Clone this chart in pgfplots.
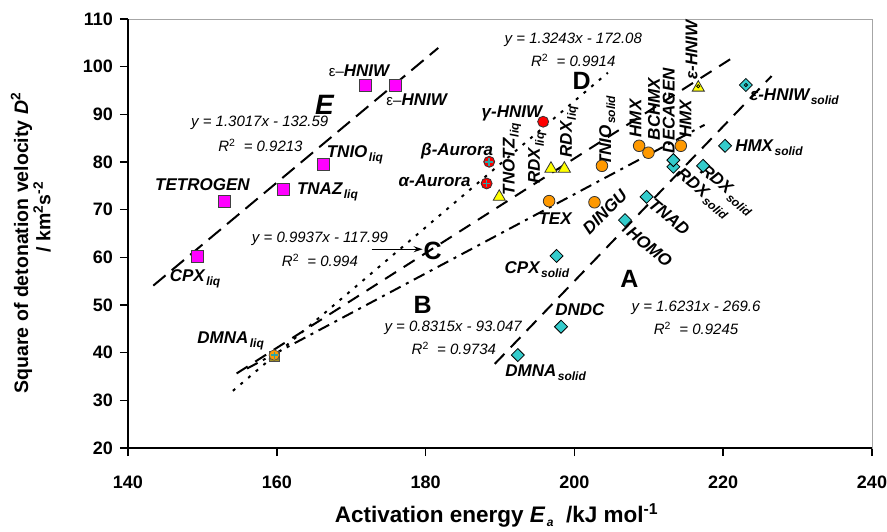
\documentclass[border=0pt]{standalone}
\usepackage{pgfplots}
\pgfplotsset{compat=1.18}
\usetikzlibrary{arrows.meta}
\usepackage{fontspec}
\setmainfont{Liberation Sans}
\definecolor{mag}{HTML}{FF00FF}
\definecolor{tealc}{HTML}{33CCCC}
\definecolor{orng}{HTML}{FF9900}
\definecolor{crossc}{HTML}{2AA5A5}
\definecolor{ylw}{HTML}{FFFF00}
\newcommand{\lab}{\fontsize{17}{19}\selectfont\bfseries\itshape}
\newcommand{\eqf}{\fontsize{15}{17}\selectfont\itshape}
\newcommand{\sub}[1]{\hspace{1.5pt}\raisebox{-4pt}{\fontsize{12}{13}\selectfont #1}}
\newcommand{\Rsq}[1]{R\textsuperscript{\upshape 2}\ \ = #1}
\tikzset{lb/.style={inner sep=0pt, font=\lab},
         eq/.style={inner sep=0pt, font=\eqf},
         big/.style={inner sep=0pt, font=\fontsize{25}{27}\selectfont\bfseries}}
\begin{document}
\begin{tikzpicture}
\path[use as bounding box] (-128pt,-83pt) rectangle (759pt,448pt);
\begin{axis}[
  scale only axis, width=744pt, height=429pt,
  xmin=140, xmax=240, ymin=20, ymax=110,
  xtick={140,160,...,240}, ytick={20,30,...,110},
  tick align=outside, tick pos=left,
  major tick length=8pt,
  tick style={black, line width=1.5pt},
  axis line style={draw=gray!70, line width=1pt},
  /pgf/number format/assume math mode=true,
  ticklabel style={font=\fontsize{18}{20}\selectfont\bfseries, inner sep=0pt},
  xticklabel shift=20pt,
  yticklabel shift=7pt,
  clip=false,
]
% trend lines
\addplot[black, line width=2pt, dash pattern=on 16pt off 8pt] coordinates {(143.4,54.07) (181.7,103.93)}; % E
\addplot[black, line width=2pt, dash pattern=on 14pt off 9pt] coordinates {(189.3,37.65) (226.5,98.03)}; % A
\addplot[black, line width=2pt, dash pattern=on 12pt off 6pt on 3pt off 6pt] coordinates {(156.0,36.67) (217.5,87.80)}; % B
\addplot[black, line width=2pt, dash pattern=on 13pt off 9pt] coordinates {(154.6,35.64) (221.4,102.01)}; % C
\addplot[black, line width=2pt, dash pattern=on 3pt off 7pt] coordinates {(154.1,31.99) (204.5,98.74)}; % D

% E series (liquid, magenta squares)
\addplot[only marks, mark=square*, mark size=6pt, mark options={fill=mag, draw=black!75, line width=0.8pt}]
 coordinates {(149.3,60.3) (153.0,71.7) (160.9,74.3) (166.25,79.4) (171.85,96.15) (175.9,96.15)};
% red circles
\addplot[only marks, mark=*, mark size=5.5pt, mark options={fill=red, draw=black!80, line width=0.8pt}]
 coordinates {(188.2,75.5) (188.55,80.05) (195.8,88.45)};
\addplot[only marks, mark=+, mark size=3.8pt, mark options={draw=crossc, line width=1.5pt}]
 coordinates {(188.2,75.5) (188.55,80.05)};
% yellow triangles
\addplot[only marks, mark=triangle*, mark size=7pt, mark options={fill=ylw, draw=black!80, line width=0.8pt}]
 coordinates {(189.9,72.7) (196.85,78.6) (198.65,78.6) (216.65,95.6)};
% orange circles
\addplot[only marks, mark=*, mark size=5.8pt, mark options={fill=orng, draw=black!80, line width=0.8pt}]
 coordinates {(196.6,71.8) (202.7,71.55) (203.7,79.2) (208.7,83.4) (209.95,81.95) (214.3,83.4)};
% teal diamonds (solid)
\addplot[only marks, mark=square*, mark size=4.6pt, mark options={rotate=45, fill=tealc, draw=black, line width=0.8pt}]
 coordinates {(192.4,39.5) (198.2,45.45) (197.6,60.3) (206.8,67.8) (209.7,72.7) (213.3,79.0) (213.3,80.4) (217.3,79.2) (220.25,83.4) (223.05,96.15)};
\addplot[only marks, mark=o, mark size=1.6pt, mark options={draw=black, line width=0.8pt}]
 coordinates {(223.05,96.15) (216.65,95.9)};
% DMNA liq (combined marker)
\addplot[only marks, mark=square*, mark size=5pt, mark options={fill=olive!60!brown, draw=black!70, line width=0.6pt}] coordinates {(159.65,39.3)};
\addplot[only marks, mark=triangle*, mark size=6pt, mark options={fill=ylw, draw=black!70, line width=0.6pt}] coordinates {(159.65,39.3)};
\addplot[only marks, mark=*, mark size=5.2pt, mark options={fill=orng, draw=black!70, line width=0.6pt}] coordinates {(159.65,39.5)};
\addplot[only marks, mark=+, mark size=3.5pt, mark options={draw=crossc, line width=1.3pt}] coordinates {(159.65,39.5)};

% frame: black left and bottom
\draw[black, line width=2pt] (rel axis cs:0,1) -- (rel axis cs:0,0) -- (rel axis cs:1,0);

% arrow to C
\draw[-{Stealth[length=9pt,width=6pt]}, line width=1.4pt] (axis cs:172.75,61.7) -- (axis cs:179.6,61.7);

% equations
\node[eq] at (axis cs:157.7,88.25) {y = 1.3017x - 132.59};
\node[eq] at (axis cs:157.8,83.55) {\Rsq{0.9213}};
\node[eq] at (axis cs:165.8,63.8) {y = 0.9937x - 117.99};
\node[eq] at (axis cs:165.8,59.3) {\Rsq{0.994}};
\node[eq] at (axis cs:183.7,45.2) {y = 0.8315x - 93.047};
\node[eq] at (axis cs:183.8,40.9) {\Rsq{0.9734}};
\node[eq] at (axis cs:216.35,49.5) {y = 1.6231x - 269.6};
\node[eq] at (axis cs:216.35,45.1) {\Rsq{0.9245}};
\node[eq] at (axis cs:199.85,105.7) {y = 1.3243x - 172.08};
\node[eq] at (axis cs:199.85,101.25) {\Rsq{0.9914}};

% big letters
\node[inner sep=0pt, font=\fontsize{28}{30}\selectfont\bfseries\itshape] at (axis cs:166.4,91.95) {E};
\node[big] at (axis cs:200.98,97.05) {D};
\node[big] at (axis cs:180.95,61.4) {C};
\node[big] at (axis cs:179.6,50.0) {B};
\node[big] at (axis cs:207.4,55.4) {A};

% horizontal labels
\node[lb] at (axis cs:171.05,99.15) {{\mdseries\upshape\fontsize{15}{17}\selectfont ε–}HNIW};
\node[lb] at (axis cs:178.8,93.15) {{\mdseries\upshape\fontsize{15}{17}\selectfont ε–}HNIW};
\node[lb, anchor=base west] at (axis cs:166.7,80.9) {TNIO\sub{liq}};
\node[lb, anchor=base west] at (axis cs:162.7,73.25) {TNAZ\sub{liq}};
\node[lb] at (axis cs:150.0,75.3) {TETROGEN};
\node[lb, anchor=base west] at (axis cs:145.6,54.9) {CPX\sub{liq}};
\node[lb, anchor=base west] at (axis cs:149.3,42.0) {DMNA\sub{liq}};
\node[lb, anchor=base west] at (axis cs:190.6,56.65) {CPX\sub{solid}};
\node[lb, anchor=base west] at (axis cs:190.7,34.95) {DMNA\sub{solid}};
\node[lb] at (axis cs:200.75,49.1) {DNDC};
\node[lb] at (axis cs:191.6,90.2) {γ-HNIW};
\node[lb] at (axis cs:184.25,82.3) {β-Aurora};
\node[lb] at (axis cs:181.2,76.0) {α-Aurora};
\node[lb] at (axis cs:197.4,68.2) {TEX};
\node[lb, anchor=base west] at (axis cs:223.6,93.0) {ε-HNIW\sub{solid}};
\node[lb, anchor=base west] at (axis cs:221.6,82.15) {HMX\sub{solid}};

% rotated labels
\node[lb, rotate=90] at (axis cs:191.6,80.6) {TNOTZ\sub{liq}};
\node[lb, rotate=90] at (axis cs:195.0,80.8) {RDX\sub{liq}};
\node[lb, rotate=90] at (axis cs:199.3,86.35) {RDX\sub{liq}};
\node[lb, rotate=90] at (axis cs:204.4,86.55) {TNIO\sub{solid}};
\node[lb, rotate=90] at (axis cs:208.2,89.15) {HMX};
\node[lb, rotate=90] at (axis cs:210.7,91.1) {BCHMX};
\node[lb, rotate=90] at (axis cs:212.7,90.75) {DECAGEN};
\node[lb, rotate=90] at (axis cs:214.95,89.0) {HMX};
\node[lb, rotate=90] at (axis cs:215.75,103.5) {ε-HNIW};
\node[lb, rotate=-40] at (axis cs:217.3,73.4) {RDX\sub{solid}};
\node[lb, rotate=-40] at (axis cs:220.5,74.1) {RDX\sub{solid}};
\node[lb, rotate=-40] at (axis cs:212.75,68.5) {TNAD};
\node[lb, rotate=-40] at (axis cs:210.1,62.2) {HOMO};
\node[lb, rotate=45] at (axis cs:204.1,69.6) {DINGU};
\end{axis}
% axis titles
\node[anchor=base, inner sep=0pt, font=\fontsize{22.5}{24}\selectfont\bfseries] at (368.5pt,-74pt)
  {Activation energy \textit{E}\sub{\textit{a}} \ /kJ mol\textsuperscript{-1}};
\node[rotate=90, inner sep=0pt, font=\fontsize{19.5}{21}\selectfont\bfseries] at (-106.5pt,205pt)
  {Square of detonation velocity \textit{D}\textsuperscript{2}};
\node[rotate=90, inner sep=0pt, font=\fontsize{19.5}{21}\selectfont\bfseries] at (-86pt,231pt)
  {/ km\textsuperscript{2}s\textsuperscript{-2}};
\end{tikzpicture}
\end{document}
